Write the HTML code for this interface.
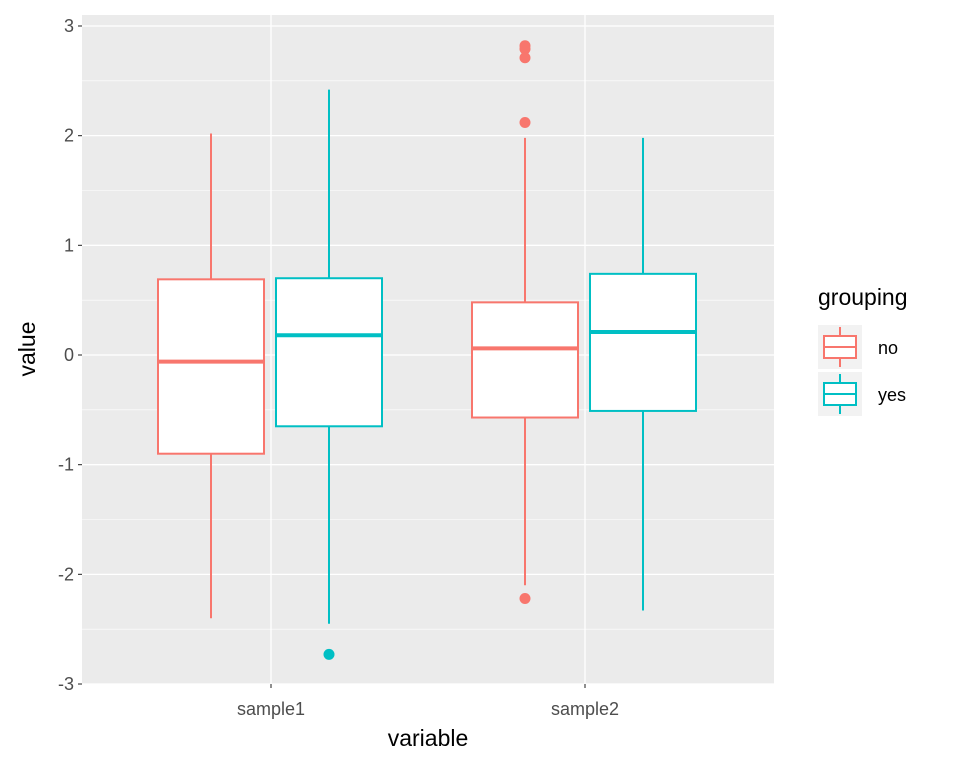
<!DOCTYPE html>
<html><head><meta charset="utf-8"><style>
body{margin:0;background:#fff;font-family:"Liberation Sans",sans-serif}
</style></head><body>
<svg id="chart" width="960" height="768" xmlns="http://www.w3.org/2000/svg" font-family="Liberation Sans, sans-serif"></svg>
<script>
const categories=["sample1","sample2"];
const groups=["no","yes"];
const colors=["#F8766D","#00BFC4"];
const whiskerLow=[[-2.40,-2.45],[-2.10,-2.33]];
const q1=[[-0.90,-0.65],[-0.57,-0.51]];
const medians=[[-0.06,0.18],[0.06,0.21]];
const q3=[[0.69,0.70],[0.48,0.74]];
const whiskerHigh=[[2.02,2.42],[1.98,1.98]];
const outliers=[[[],[-2.73]],[[2.82,2.79,2.71,2.12,-2.22],[]]];
const yTicks=[-3,-2,-1,0,1,2,3];

const NS="http://www.w3.org/2000/svg";
const svg=document.getElementById("chart");
const L=82,R=774,T=15,B=684;
const y=v=>355-v*109.67;
const x=i=>271+i*314;
function mk(t,a,p){const e=document.createElementNS(NS,t);for(const k in a)e.setAttribute(k,a[k]);(p||svg).appendChild(e);return e;}
const panel=mk("rect",{x:L,y:T,width:R-L,height:B-T,fill:"#EBEBEB"});


for(let i=0;i<yTicks.length-1;i++){const v=(yTicks[i]+yTicks[i+1])/2;mk("line",{x1:L,x2:R,y1:y(v),y2:y(v),stroke:"#fff","stroke-width":0.6});}
yTicks.forEach(v=>{
 mk("line",{x1:L,x2:R,y1:y(v),y2:y(v),stroke:"#fff","stroke-width":1.3});
 mk("line",{x1:L-4,x2:L,y1:y(v),y2:y(v),stroke:"#333","stroke-width":1.1});
 const t=mk("text",{x:L-8,y:y(v)+6,"text-anchor":"end","font-size":18,fill:"#4D4D4D"});t.textContent=v;
 
 
});
categories.forEach((c,i)=>{
 mk("line",{x1:x(i),x2:x(i),y1:T,y2:B,stroke:"#fff","stroke-width":1.3});
 mk("line",{x1:x(i),x2:x(i),y1:B,y2:B+4,stroke:"#333","stroke-width":1.1});
 const t=mk("text",{x:x(i),y:B+31,"text-anchor":"middle","font-size":18,fill:"#4D4D4D"});t.textContent=c;
 
 
});
categories.forEach((c,i)=>groups.forEach((g,j)=>{
 const cx=x(i)+(j?58:-60),hw=53,col=colors[j];
 const gE=mk("g",{});
 
 
 mk("line",{x1:cx,x2:cx,y1:y(whiskerHigh[i][j]),y2:y(q3[i][j]),stroke:col,"stroke-width":2},gE);
 mk("line",{x1:cx,x2:cx,y1:y(q1[i][j]),y2:y(whiskerLow[i][j]),stroke:col,"stroke-width":2},gE);
 mk("rect",{x:cx-hw,y:y(q3[i][j]),width:2*hw,height:y(q1[i][j])-y(q3[i][j]),fill:"#fff",stroke:col,"stroke-width":2},gE);
 mk("line",{x1:cx-hw,x2:cx+hw,y1:y(medians[i][j]),y2:y(medians[i][j]),stroke:col,"stroke-width":4},gE);
 outliers[i][j].forEach(v=>{const o=mk("circle",{cx:cx,cy:y(v),r:5.5,fill:col},gE);
  
  });
}));
let t=mk("text",{x:428,y:746,"text-anchor":"middle","font-size":23,fill:"#000"});t.textContent="variable";


t=mk("text",{x:0,y:0,"text-anchor":"middle","font-size":23,fill:"#000",transform:"translate(35,349) rotate(-90)"});t.textContent="value";


t=mk("text",{x:818,y:305,"font-size":23,fill:"#000"});t.textContent="grouping";


groups.forEach((g,j)=>{
 const ky=325+j*47,col=colors[j];
 const gE=mk("g",{});
 
 
 mk("rect",{x:818,y:ky,width:44,height:44,fill:"#F2F2F2"},gE);
 mk("line",{x1:840,x2:840,y1:ky+2,y2:ky+42,stroke:col,"stroke-width":2},gE);
 mk("rect",{x:824,y:ky+11,width:32,height:22,fill:"#fff",stroke:col,"stroke-width":2},gE);
 mk("line",{x1:824,x2:856,y1:ky+22,y2:ky+22,stroke:col,"stroke-width":2},gE);
 const l=mk("text",{x:878,y:ky+29,"font-size":18,fill:"#000"},gE);l.textContent=g;
});
</script>
</body></html>
